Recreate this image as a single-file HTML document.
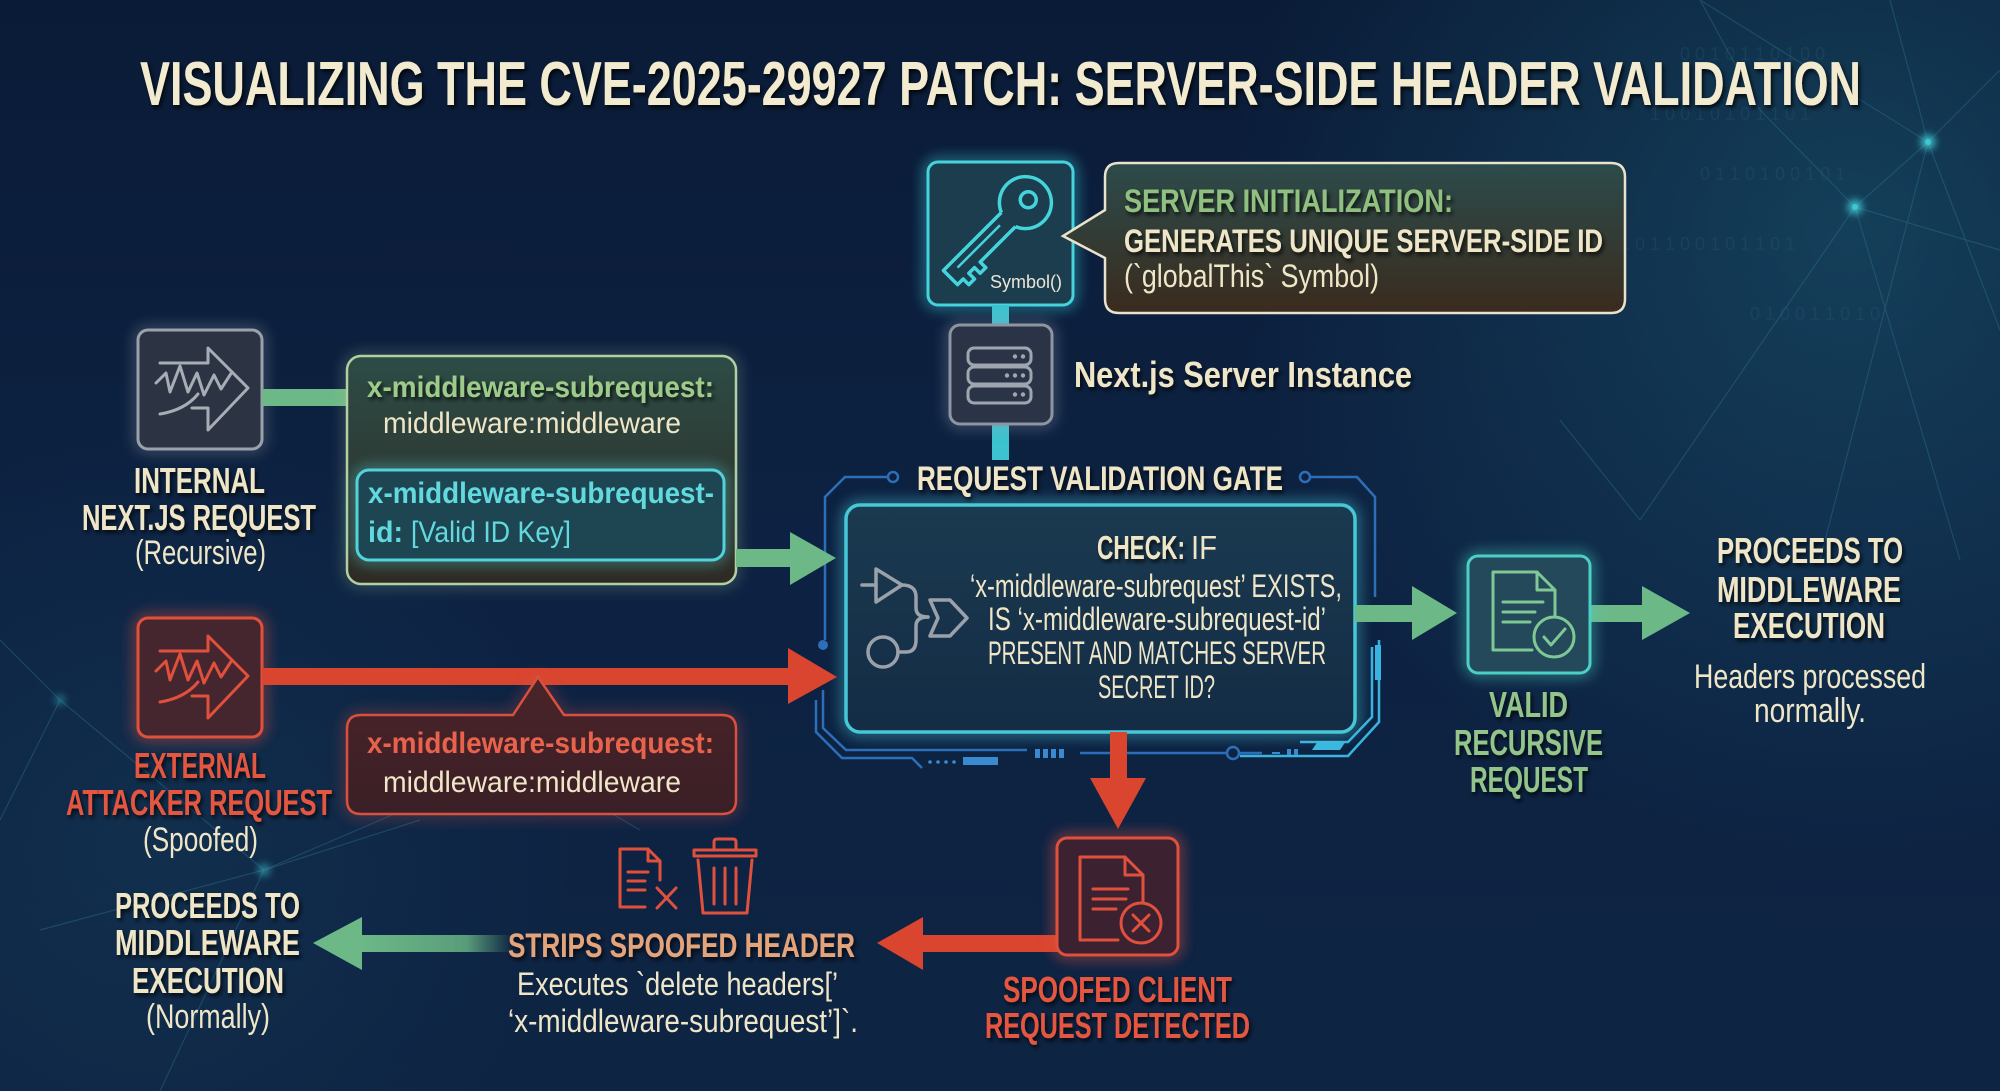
<!DOCTYPE html>
<html>
<head>
<meta charset="utf-8">
<style>
html,body{margin:0;padding:0;background:#0c1d3a;}
svg{display:block;}
.b{font-family:"Liberation Sans Narrow","Liberation Sans",sans-serif;font-weight:bold;}
.r{font-family:"Liberation Sans Narrow","Liberation Sans",sans-serif;font-weight:normal;}
</style>
</head>
<body>
<svg width="2000" height="1091" viewBox="0 0 2000 1091" xmlns="http://www.w3.org/2000/svg">
<defs>
  <linearGradient id="bgl" x1="0" y1="0" x2="0" y2="1">
    <stop offset="0" stop-color="#0a1b37"/>
    <stop offset="0.5" stop-color="#0d2242"/>
    <stop offset="1" stop-color="#0e2443"/>
  </linearGradient>
  <radialGradient id="bgr" cx="1850" cy="230" r="620" gradientUnits="userSpaceOnUse">
    <stop offset="0" stop-color="#1b5a72" stop-opacity="0.55"/>
    <stop offset="1" stop-color="#1b5a72" stop-opacity="0"/>
  </radialGradient>
  <radialGradient id="bgr2" cx="150" cy="850" r="420" gradientUnits="userSpaceOnUse">
    <stop offset="0" stop-color="#1a4a66" stop-opacity="0.3"/>
    <stop offset="1" stop-color="#1a4a66" stop-opacity="0"/>
  </radialGradient>
  <linearGradient id="callg" x1="0" y1="0" x2="0" y2="1">
    <stop offset="0" stop-color="#2c4b4b"/>
    <stop offset="1" stop-color="#3a2b1d"/>
  </linearGradient>
  <linearGradient id="hdrg" x1="0" y1="0" x2="0" y2="1">
    <stop offset="0" stop-color="#2d4c46"/>
    <stop offset="1" stop-color="#2e2a23"/>
  </linearGradient>
  <linearGradient id="redg" x1="0" y1="0" x2="0" y2="1">
    <stop offset="0" stop-color="#4a2428"/>
    <stop offset="1" stop-color="#3a1f26"/>
  </linearGradient>
  <linearGradient id="gateg" x1="0" y1="0" x2="0" y2="1">
    <stop offset="0" stop-color="#1a3a50"/>
    <stop offset="1" stop-color="#142c45"/>
  </linearGradient>
  <linearGradient id="gfade" x1="0" y1="0" x2="1" y2="0">
    <stop offset="0" stop-color="#6cb987"/>
    <stop offset="0.7" stop-color="#6cb987" stop-opacity="0.8"/>
    <stop offset="1" stop-color="#6cb987" stop-opacity="0"/>
  </linearGradient>
  <filter id="glow" x="-40%" y="-40%" width="180%" height="180%">
    <feGaussianBlur stdDeviation="7"/>
  </filter>
  <filter id="ts" x="-10%" y="-30%" width="120%" height="160%">
    <feDropShadow dx="2" dy="3" stdDeviation="2" flood-color="#000" flood-opacity="0.75"/>
  </filter>
  <filter id="nglow" x="-200%" y="-200%" width="500%" height="500%">
    <feGaussianBlur stdDeviation="4"/>
  </filter>
</defs>

<!-- background -->
<rect width="2000" height="1091" fill="url(#bgl)"/>
<rect width="2000" height="1091" fill="url(#bgr)"/>
<rect width="2000" height="1091" fill="url(#bgr2)"/>

<!-- network lines -->
<g stroke="#2f7590" stroke-width="1.2" opacity="0.4" fill="none">
  <path d="M1928,142 L1700,0 M1928,142 L2000,70 M1928,142 L1855,207 M1928,142 L2000,330 M1928,142 L1890,0 M1855,207 L1640,520 M1855,207 L2000,250 M1855,207 L1760,110 M1855,207 L1960,560 M1760,110 L1700,0 M1928,142 L1820,560 M1640,520 L1560,420"/>
  <path d="M0,640 L60,700 M60,700 L264,870 M264,870 L160,1091 M264,870 L420,820 M60,700 L0,820 M264,870 L520,760 M40,930 L264,870 M520,760 L640,830"/>
</g>
<g fill="#3fc6d0">
  <circle cx="1928" cy="142" r="7" filter="url(#nglow)"/>
  <circle cx="1928" cy="142" r="3"/>
  <circle cx="1855" cy="207" r="7" filter="url(#nglow)"/>
  <circle cx="1855" cy="207" r="3"/>
  <circle cx="264" cy="870" r="6" filter="url(#nglow)" opacity="0.6"/>
  <circle cx="60" cy="700" r="5" filter="url(#nglow)" opacity="0.5"/>
</g>
<g class="r" font-size="18" fill="#2a6a86" opacity="0.22">
  <text x="1650" y="120">1 0 0 1 0 1 0 1 1 0 1</text>
  <text x="1700" y="180">0 1 1 0 1 0 0 1 0 1</text>
  <text x="1620" y="250">1 0 1 1 0 0 1 0 1 1 0 1</text>
  <text x="1750" y="320">0 1 0 0 1 1 0 1 0</text>
  <text x="1680" y="60">0 0 1 0 1 1 0 1 0 0</text>
</g>

<!-- title -->
<text class="b" x="140" y="105" font-size="62" fill="#f3ebd0" textLength="1721" lengthAdjust="spacingAndGlyphs" filter="url(#ts)">VISUALIZING THE CVE-2025-29927 PATCH: SERVER-SIDE HEADER VALIDATION</text>

<!-- key box -->
<rect x="928" y="162" width="145" height="143" rx="10" fill="none" stroke="#3fd0da" stroke-width="6" filter="url(#glow)" opacity="0.8"/>
<rect x="928" y="162" width="145" height="143" rx="10" fill="#1b3d4e" stroke="#45d3dc" stroke-width="3"/>
<g transform="translate(1024,204) rotate(135)" fill="none" stroke="#45d3dc" stroke-width="3.5" stroke-linejoin="round">
  <path d="M22,-10 A26,26 0 1 0 22,10"/>
  <circle cx="-6" cy="0" r="8"/>
  <path d="M22,10 L104,10 L104,-10 L96,-10 L96,-18 L88,-18 L88,-10 L80,-10 L80,-18 L72,-18 L72,-10 L22,-10"/>
  <path d="M32,2 L92,2" stroke-width="2.5"/>
</g>
<text class="r" x="990" y="288" font-size="18" fill="#ece6d6" textLength="72" lengthAdjust="spacingAndGlyphs">Symbol()</text>

<!-- cyan connectors -->
<rect x="992" y="305" width="17" height="21" fill="#3cc3cf"/>
<rect x="992" y="424" width="17" height="36" fill="#3cc3cf"/>

<!-- callout -->
<path d="M1119,163 H1611 Q1625,163 1625,177 V299 Q1625,313 1611,313 H1119 Q1105,313 1105,299 V258 L1063,236 L1105,210 V177 Q1105,163 1119,163 Z" fill="url(#callg)" stroke="#e9e2cc" stroke-width="2.5"/>
<text class="b" x="1124" y="212" font-size="32" fill="#8fc080" textLength="329" lengthAdjust="spacingAndGlyphs" filter="url(#ts)">SERVER INITIALIZATION:</text>
<text class="b" x="1124" y="252" font-size="32" fill="#efe6c8" textLength="479" lengthAdjust="spacingAndGlyphs" filter="url(#ts)">GENERATES UNIQUE SERVER-SIDE ID</text>
<text class="r" x="1124" y="287" font-size="32" fill="#efe6c8" textLength="255" lengthAdjust="spacingAndGlyphs">(`globalThis` Symbol)</text>

<!-- server box -->
<rect x="950" y="325" width="102" height="99" rx="10" fill="none" stroke="#9aa3b2" stroke-width="6" filter="url(#glow)" opacity="0.6"/>
<rect x="950" y="325" width="102" height="99" rx="10" fill="#2a3446" stroke="#8d95a3" stroke-width="3"/>
<g fill="none" stroke="#a0a6b0" stroke-width="3">
  <rect x="968" y="348" width="63" height="17" rx="6"/>
  <rect x="968" y="367" width="63" height="17" rx="6"/>
  <rect x="968" y="386" width="63" height="17" rx="6"/>
</g>
<g fill="#a0a6b0">
  <circle cx="1015" cy="356.5" r="2.2"/><circle cx="1023" cy="356.5" r="2.2"/>
  <circle cx="1007" cy="375.5" r="2.2"/><circle cx="1015" cy="375.5" r="2.2"/><circle cx="1023" cy="375.5" r="2.2"/>
  <circle cx="1015" cy="394.5" r="2.2"/><circle cx="1023" cy="394.5" r="2.2"/>
</g>
<text class="b" x="1074" y="387" font-size="36" fill="#efe6c8" textLength="338" lengthAdjust="spacingAndGlyphs" filter="url(#ts)">Next.js Server Instance</text>

<!-- gate frame -->
<g fill="none" stroke="#2c6fb8" stroke-width="2.5">
  <circle cx="893" cy="477" r="5"/>
  <path d="M888,477 H845 L825,497 V640"/>
  <circle cx="1305" cy="477" r="5"/>
  <path d="M1310,477 H1357 L1375,497 V597"/>
  <path d="M823,690 V728 L846,750 H1027"/>
  <path d="M816,700 V732 L842,758 H912 L922,768"/>
  <path d="M1080,753 H1227"/>
  <circle cx="1233" cy="753" r="6"/>
  <path d="M1239,753 H1262"/>
</g>
<circle cx="823" cy="645" r="5" fill="#2c6fb8"/>
<g fill="none" stroke="#3ab4df" stroke-width="2.5">
  <path d="M1372,647 V717 L1348,742 H1300"/>
  <path d="M1379,640 V722 L1348,756 H1240"/>
</g>
<rect x="1375" y="645" width="6" height="35" fill="#3ab4df"/>
<polygon points="1318,741 1346,741 1340,750 1312,750" fill="#3ab8e0"/>
<g fill="#3a8ad0">
  <rect x="1035" y="749" width="5" height="9"/>
  <rect x="1043" y="749" width="5" height="9"/>
  <rect x="1051" y="749" width="5" height="9"/>
  <rect x="1059" y="749" width="5" height="9"/>
  <rect x="963" y="757" width="35" height="8"/>
  <circle cx="930" cy="762" r="1.8"/><circle cx="938" cy="762" r="1.8"/><circle cx="946" cy="762" r="1.8"/><circle cx="954" cy="762" r="1.8"/>
  <rect x="1272" y="752" width="8" height="2"/><rect x="1287" y="749" width="4" height="6"/><rect x="1294" y="749" width="4" height="6"/>
</g>

<!-- gate box -->
<rect x="846" y="505" width="509" height="227" rx="14" fill="none" stroke="#46c8d6" stroke-width="7" filter="url(#glow)" opacity="0.7"/>
<rect x="846" y="505" width="509" height="227" rx="14" fill="url(#gateg)" stroke="#46c8d6" stroke-width="3.5"/>
<text class="b" x="917" y="490" font-size="34" fill="#efe6c8" textLength="366" lengthAdjust="spacingAndGlyphs" filter="url(#ts)">REQUEST VALIDATION GATE</text>

<!-- gate icon -->
<g fill="none" stroke="#9aa1aa" stroke-width="3.5" stroke-linejoin="round" stroke-linecap="round">
  <path d="M862,585 H876"/>
  <path d="M876,569 L902,585 L876,602 Z"/>
  <path d="M902,585 Q916,585 916,597 V608 Q916,617 928,617"/>
  <path d="M898,652 H906 Q916,652 916,640 V626 Q916,617 928,617"/>
  <path d="M930,600 H950 L967,618 L950,636 H930 L938,618 Z"/>
  <circle cx="883" cy="652" r="15"/>
</g>

<!-- gate text -->
<text class="b" x="1097" y="559" font-size="33" fill="#efe6c8" textLength="88" lengthAdjust="spacingAndGlyphs" filter="url(#ts)">CHECK:</text>
<text class="r" x="1191" y="559" font-size="33" fill="#efe6c8" textLength="26" lengthAdjust="spacingAndGlyphs">IF</text>
<text class="r" x="970" y="597" font-size="32" fill="#efe6c8" textLength="372" lengthAdjust="spacingAndGlyphs">‘x-middleware-subrequest’ EXISTS,</text>
<text class="r" x="988" y="630" font-size="32" fill="#efe6c8" textLength="338" lengthAdjust="spacingAndGlyphs">IS ‘x-middleware-subrequest-id’</text>
<text class="r" x="988" y="664" font-size="32" fill="#efe6c8" textLength="338" lengthAdjust="spacingAndGlyphs">PRESENT AND MATCHES SERVER</text>
<text class="r" x="1098" y="698" font-size="32" fill="#efe6c8" textLength="117" lengthAdjust="spacingAndGlyphs">SECRET ID?</text>

<!-- internal request box -->
<rect x="138" y="330" width="124" height="119" rx="10" fill="none" stroke="#a8adb8" stroke-width="6" filter="url(#glow)" opacity="0.5"/>
<rect x="138" y="330" width="124" height="119" rx="10" fill="#2c3443" stroke="#9ba1ab" stroke-width="3"/>
<g fill="none" stroke="#a8adb5" stroke-width="3" stroke-linejoin="round" stroke-linecap="round">
  <path d="M160,363 H208 V348 L248,388 L208,430 V408 H192"/>
  <path d="M156,383 L166,373 L170,392 L180,366 L188,392 L197,373 L204,395 L214,375 L221,389 L232,372"/>
  <path d="M160,414 Q185,410 198,394"/>
</g>
<rect x="262" y="389" width="86" height="17" fill="#6cb987"/>

<!-- header box -->
<rect x="347" y="356" width="389" height="228" rx="14" fill="none" stroke="#aac99a" stroke-width="5" filter="url(#glow)" opacity="0.5"/>
<rect x="347" y="356" width="389" height="228" rx="14" fill="url(#hdrg)" stroke="#b3d0a0" stroke-width="2.5"/>
<text class="b" x="367" y="397" font-size="30" fill="#9dcb8a" textLength="347" lengthAdjust="spacingAndGlyphs" filter="url(#ts)">x-middleware-subrequest:</text>
<text class="r" x="383" y="433" font-size="30" fill="#efe6c8" textLength="298" lengthAdjust="spacingAndGlyphs">middleware:middleware</text>
<rect x="357" y="470" width="367" height="90" rx="12" fill="none" stroke="#52d2da" stroke-width="6" filter="url(#glow)" opacity="0.7"/>
<rect x="357" y="470" width="367" height="90" rx="12" fill="#1e4652" stroke="#52d2da" stroke-width="3"/>
<text class="b" x="368" y="503" font-size="30" fill="#62d9df" textLength="346" lengthAdjust="spacingAndGlyphs">x-middleware-subrequest-</text>
<text class="b" x="368" y="542" font-size="30" fill="#62d9df" textLength="35" lengthAdjust="spacingAndGlyphs">id:</text>
<text class="r" x="411" y="542" font-size="30" fill="#62d9df" textLength="160" lengthAdjust="spacingAndGlyphs">[Valid ID Key]</text>

<!-- green arrow into gate -->
<rect x="736" y="549" width="56" height="18" fill="#6cb987"/>
<polygon points="790,532 836,558 790,585" fill="#6cb987"/>

<!-- external attacker box -->
<rect x="138" y="618" width="124" height="119" rx="10" fill="none" stroke="#e0503c" stroke-width="7" filter="url(#glow)" opacity="0.7"/>
<rect x="138" y="618" width="124" height="119" rx="10" fill="#46262e" stroke="#e0503c" stroke-width="3"/>
<g fill="none" stroke="#e0503c" stroke-width="3" stroke-linejoin="round" stroke-linecap="round">
  <path d="M160,651 H208 V636 L248,676 L208,718 V696 H192"/>
  <path d="M156,671 L166,661 L170,680 L180,654 L188,680 L197,661 L204,683 L214,663 L221,677 L232,660"/>
  <path d="M160,702 Q185,698 198,682"/>
</g>
<!-- red arrow -->
<rect x="262" y="668" width="528" height="17" fill="#d9452f"/>
<polygon points="788,648 837,677 788,704" fill="#d9452f"/>

<!-- red speech box -->
<path d="M361,715 H513 L538,677 L564,715 H722 Q736,715 736,729 V800 Q736,814 722,814 H361 Q347,814 347,800 V729 Q347,715 361,715 Z" fill="none" stroke="#d9503f" stroke-width="5" filter="url(#glow)" opacity="0.6"/>
<path d="M361,715 H513 L538,677 L564,715 H722 Q736,715 736,729 V800 Q736,814 722,814 H361 Q347,814 347,800 V729 Q347,715 361,715 Z" fill="url(#redg)" stroke="#d9503f" stroke-width="2.5"/>
<text class="b" x="367" y="753" font-size="30" fill="#e8624c" textLength="347" lengthAdjust="spacingAndGlyphs">x-middleware-subrequest:</text>
<text class="r" x="383" y="792" font-size="30" fill="#efe6c8" textLength="298" lengthAdjust="spacingAndGlyphs">middleware:middleware</text>

<!-- left labels -->
<g class="b" font-size="36" fill="#efe6c8" filter="url(#ts)">
  <text x="134" y="493" textLength="131" lengthAdjust="spacingAndGlyphs">INTERNAL</text>
  <text x="82" y="530" textLength="234" lengthAdjust="spacingAndGlyphs">NEXT.JS REQUEST</text>
</g>
<text class="r" x="135" y="564" font-size="34" fill="#efe6c8" textLength="131" lengthAdjust="spacingAndGlyphs">(Recursive)</text>
<g class="b" font-size="36" fill="#e5573f" filter="url(#ts)">
  <text x="134" y="778" textLength="132" lengthAdjust="spacingAndGlyphs">EXTERNAL</text>
  <text x="66" y="815" textLength="266" lengthAdjust="spacingAndGlyphs">ATTACKER REQUEST</text>
</g>
<text class="r" x="143" y="851" font-size="34" fill="#efe6c8" textLength="115" lengthAdjust="spacingAndGlyphs">(Spoofed)</text>

<!-- bottom-left proceeds -->
<g class="b" font-size="36" fill="#efe6c8" filter="url(#ts)">
  <text x="115" y="918" textLength="185" lengthAdjust="spacingAndGlyphs">PROCEEDS TO</text>
  <text x="115" y="955" textLength="185" lengthAdjust="spacingAndGlyphs">MIDDLEWARE</text>
  <text x="132" y="993" textLength="152" lengthAdjust="spacingAndGlyphs">EXECUTION</text>
</g>
<text class="r" x="146" y="1028" font-size="34" fill="#efe6c8" textLength="124" lengthAdjust="spacingAndGlyphs">(Normally)</text>

<!-- green left arrow -->
<rect x="360" y="935" width="152" height="17" fill="url(#gfade)"/>
<polygon points="313,943 362,917 362,970" fill="#6cb987"/>

<!-- strips icons -->
<g fill="none" stroke="#e0503c" stroke-width="3" stroke-linejoin="round" stroke-linecap="round">
  <path d="M645,907 H620 V849 H648 L660,861 V880"/>
  <path d="M648,849 V861 H660"/>
  <path d="M628,872 H648 M628,881 H645 M628,890 H645"/>
  <path d="M657,888 L676,908 M676,888 L657,908"/>
  <path d="M694,850 H756 V856 H694 Z"/>
  <path d="M714,850 V842 Q714,839 717,839 H733 Q736,839 736,842 V850"/>
  <path d="M698,860 L703,913 H747 L752,860"/>
  <path d="M714,868 V904 M725,868 V904 M736,868 V904"/>
</g>
<text class="b" x="508" y="957" font-size="34" fill="#e3a47c" textLength="347" lengthAdjust="spacingAndGlyphs" filter="url(#ts)">STRIPS SPOOFED HEADER</text>
<text class="r" x="517" y="995" font-size="32" fill="#efe6c8" textLength="321" lengthAdjust="spacingAndGlyphs">Executes `delete headers[’</text>
<text class="r" x="508" y="1032" font-size="32" fill="#efe6c8" textLength="350" lengthAdjust="spacingAndGlyphs">‘x-middleware-subrequest’]`.</text>

<!-- red down arrow -->
<rect x="1110" y="732" width="17" height="48" fill="#d9452f"/>
<polygon points="1090,778 1146,778 1118,829" fill="#d9452f"/>

<!-- red left arrow -->
<rect x="921" y="935" width="138" height="17" fill="#d9452f"/>
<polygon points="877,943 923,917 923,970" fill="#d9452f"/>

<!-- spoofed box -->
<rect x="1057" y="838" width="121" height="117" rx="10" fill="none" stroke="#e0503c" stroke-width="7" filter="url(#glow)" opacity="0.75"/>
<rect x="1057" y="838" width="121" height="117" rx="10" fill="#3c2230" stroke="#e0503c" stroke-width="3"/>
<g fill="none" stroke="#e0503c" stroke-width="3" stroke-linejoin="round" stroke-linecap="round">
  <path d="M1118,940 H1080 V857 H1125 L1143,875 V902"/>
  <path d="M1125,857 V875 H1143"/>
  <path d="M1093,889 H1128 M1093,899 H1126 M1093,909 H1116"/>
  <circle cx="1141" cy="923" r="20"/>
  <path d="M1133,915 L1149,931 M1149,915 L1133,931"/>
</g>
<g class="b" font-size="36" fill="#e5573f" filter="url(#ts)">
  <text x="1003" y="1002" textLength="229" lengthAdjust="spacingAndGlyphs">SPOOFED CLIENT</text>
  <text x="985" y="1038" textLength="265" lengthAdjust="spacingAndGlyphs">REQUEST DETECTED</text>
</g>

<!-- right green arrows -->
<rect x="1355" y="605" width="59" height="17" fill="#6cb987"/>
<polygon points="1412,586 1457,613 1412,640" fill="#6cb987"/>
<rect x="1588" y="605" width="56" height="17" fill="#6cb987"/>
<polygon points="1642,586 1690,613 1642,640" fill="#6cb987"/>

<!-- valid box -->
<rect x="1468" y="556" width="122" height="117" rx="10" fill="none" stroke="#4ccfbf" stroke-width="7" filter="url(#glow)" opacity="0.7"/>
<rect x="1468" y="556" width="122" height="117" rx="10" fill="#23495a" stroke="#4ccfc4" stroke-width="3"/>
<g fill="none" stroke="#7fc896" stroke-width="3" stroke-linejoin="round" stroke-linecap="round">
  <path d="M1532,650 H1493 V572 H1537 L1555,590 V615"/>
  <path d="M1537,572 V590 H1555"/>
  <path d="M1503,602 H1543 M1503,612 H1535 M1503,622 H1530"/>
  <circle cx="1554" cy="637" r="20"/>
  <path d="M1544,637 L1551,645 L1565,629"/>
</g>
<g class="b" font-size="36" fill="#93c48a" filter="url(#ts)">
  <text x="1489" y="717" textLength="79" lengthAdjust="spacingAndGlyphs">VALID</text>
  <text x="1454" y="755" textLength="149" lengthAdjust="spacingAndGlyphs">RECURSIVE</text>
  <text x="1470" y="792" textLength="118" lengthAdjust="spacingAndGlyphs">REQUEST</text>
</g>
<g class="b" font-size="36" fill="#efe6c8" filter="url(#ts)">
  <text x="1717" y="563" textLength="186" lengthAdjust="spacingAndGlyphs">PROCEEDS TO</text>
  <text x="1717" y="602" textLength="184" lengthAdjust="spacingAndGlyphs">MIDDLEWARE</text>
  <text x="1733" y="638" textLength="152" lengthAdjust="spacingAndGlyphs">EXECUTION</text>
</g>
<text class="r" x="1694" y="688" font-size="34" fill="#efe6c8" textLength="232" lengthAdjust="spacingAndGlyphs">Headers processed</text>
<text class="r" x="1754" y="722" font-size="34" fill="#efe6c8" textLength="112" lengthAdjust="spacingAndGlyphs">normally.</text>
</svg>
</body>
</html>
